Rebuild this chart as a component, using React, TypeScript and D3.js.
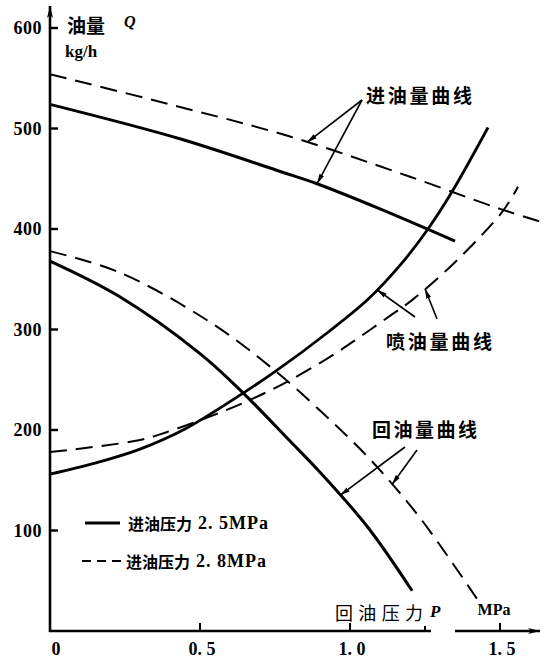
import React from 'react';
import * as d3 from 'd3';

// ---- data (P in MPa, Q in kg/h) ----
const yTicks = [100, 200, 300, 400, 500, 600];
const xTicks = [0.5, 1.0, 1.25, 1.5];
const xTickLabelValues = [0, 0.5, 1.0, 1.5];
const xTickLabels = ['0', '0. 5', '1. 0', '1. 5'];

// inlet flow (进油量)
const inletSolidP = [0, 0.43, 0.77, 0.89, 1.1, 1.35];
const inletSolidQ = [524, 490, 457, 445, 420, 388];
const inletDashedP = [0, 0.4, 0.8, 1.2, 1.5, 1.65];
const inletDashedQ = [554, 524, 492, 452, 420, 406];

// injection flow (喷油量)
const spraySolidP = [0, 0.15, 0.3, 0.45, 0.64, 0.75, 0.93, 1.06, 1.17, 1.26, 1.34, 1.46];
const spraySolidQ = [156, 167, 181, 201, 236, 258, 298, 330, 365, 400, 437, 501];
const sprayDashedP = [0, 0.3, 0.39, 0.53, 0.66, 0.79, 0.94, 1.03, 1.14, 1.21, 1.35, 1.51, 1.56];
const sprayDashedQ = [178, 190, 198, 213, 229, 248, 274, 292, 315, 330, 367, 418, 442];

// return flow (回油量)
const returnSolidP = [0, 0.23, 0.5, 0.64, 0.8, 0.9, 1.06, 1.207];
const returnSolidQ = [368, 333, 276, 238, 189, 158, 103, 40];
const returnDashedP = [0, 0.23, 0.53, 0.75, 0.99, 1.1, 1.24, 1.43];
const returnDashedQ = [378, 357, 308, 259, 194, 160, 110, 29];

const legendLabels = ['进油压力', '进油压力'];
const legendValues = ['2. 5MPa', '2. 8MPa'];

const CJK = "'Noto Sans CJK SC', 'Noto Sans', sans-serif";
const SERIF = "'Liberation Serif', 'DejaVu Serif', serif";
const INK = '#000';

export default function App() {
  const W = 544, H = 661;
  const x = d3.scaleLinear().domain([0, 1.5]).range([50, 500]);
  const y = d3.scaleLinear().domain([0, 600]).range([631, 28]);

  const pts = (P: number[], Q: number[]) => P.map((p, i) => [p, Q[i]] as [number, number]);
  const line = d3.line<[number, number]>()
    .x(d => x(d[0]))
    .y(d => y(d[1]))
    .curve(d3.curveCatmullRom.alpha(0.5));
  const qAt = (P: number[], Q: number[], p: number) => d3.scaleLinear().domain(P).range(Q)(p);
  const at = (P: number[], Q: number[], p: number) => [x(p), y(qAt(P, Q, p))];

  const solidW = 3;
  const dashW = 2;
  const dash = '17 9';

  const leaders: { from: [number, number]; to: number[] }[] = [
    { from: [362, 100], to: at(inletDashedP, inletDashedQ, 0.857) },
    { from: [362, 100], to: at(inletSolidP, inletSolidQ, 0.89) },
    { from: [415, 317], to: at(spraySolidP, spraySolidQ, 1.09) },
    { from: [437, 319], to: at(sprayDashedP, sprayDashedQ, 1.25) },
    { from: [405, 447], to: at(returnSolidP, returnSolidQ, 0.967) },
    { from: [417, 450], to: at(returnDashedP, returnDashedQ, 1.14) },
  ];

  return (
    <svg width={W} height={H} style={{ position: 'absolute', left: 0, top: 0, background: '#fff' }}>
      <defs>
        <marker id="ah" viewBox="0 0 10 6" refX="10" refY="3" markerWidth="10" markerHeight="6"
          markerUnits="userSpaceOnUse" orient="auto">
          <path d="M0,0.5 L10,3 L0,5.5 z" fill={INK} />
        </marker>
        <marker id="axah" viewBox="0 0 12 8" refX="12" refY="4" markerWidth="12" markerHeight="8"
          markerUnits="userSpaceOnUse" orient="auto">
          <path d="M0,1 L12,4 L0,7 L3,4 z" fill={INK} />
        </marker>
      </defs>
      <rect width={W} height={H} fill="#fff" />

      {/* axes */}
      <line x1={x(0)} y1={y(0) + 1} x2={x(0)} y2={6} stroke={INK} strokeWidth={2.6} markerEnd="url(#axah)" />
      <line x1={x(0) - 1} y1={y(0)} x2={431} y2={y(0)} stroke={INK} strokeWidth={2.6} />
      <line x1={455} y1={y(0)} x2={540} y2={y(0)} stroke={INK} strokeWidth={2.6} markerEnd="url(#axah)" />

      {yTicks.map(t => (
        <g key={'yt' + t}>
          <line x1={x(0)} x2={x(0) + 8} y1={y(t)} y2={y(t)} stroke={INK} strokeWidth={2.4} />
          <text x={42} y={y(t)} textAnchor="end" dominantBaseline="central"
            fontFamily={SERIF} fontWeight="bold" fontSize={18} letterSpacing={0.5}>{t}</text>
        </g>
      ))}
      {xTicks.map(t => (
        <line key={'xt' + t} x1={x(t)} x2={x(t)} y1={y(0)} y2={y(0) - (t === 1.25 ? 5 : 8)}
          stroke={INK} strokeWidth={2} />
      ))}
      {xTickLabelValues.map((v, i) => (
        <text key={'xl' + v} x={v === 0 ? x(v) + 6 : x(v) + 2} y={649} textAnchor="middle" dominantBaseline="central"
          fontFamily={SERIF} fontWeight="bold" fontSize={18}>{xTickLabels[i]}</text>
      ))}

      {/* axis titles */}
      <text x={67} y={24} dominantBaseline="central" fontFamily={CJK} fontWeight="bold" fontSize={19}>油量</text>
      <text x={124} y={21} dominantBaseline="central" fontFamily={SERIF} fontStyle="italic" fontWeight="bold" fontSize={16}>Q</text>
      <text x={65} y={51} dominantBaseline="central" fontFamily={SERIF} fontWeight="bold" fontSize={17}>kg/h</text>
      <text x={335} y={612} dominantBaseline="central" fontFamily={CJK} fontSize={18} textLength={88} lengthAdjust="spacing">回油压力</text>
      <text x={430} y={611} dominantBaseline="central" fontFamily={SERIF} fontStyle="italic" fontWeight="bold" fontSize={17}>P</text>
      <text x={494} y={609} textAnchor="middle" dominantBaseline="central" fontFamily={SERIF} fontWeight="bold" fontSize={16}>MPa</text>

      {/* curves */}
      <path d={line(pts(inletSolidP, inletSolidQ)) || ''} fill="none" stroke={INK} strokeWidth={solidW} />
      <path d={line(pts(inletDashedP, inletDashedQ)) || ''} fill="none" stroke={INK} strokeWidth={dashW} strokeDasharray={dash} />
      <path d={line(pts(spraySolidP, spraySolidQ)) || ''} fill="none" stroke={INK} strokeWidth={2.8} />
      <path d={line(pts(sprayDashedP, sprayDashedQ)) || ''} fill="none" stroke={INK} strokeWidth={dashW} strokeDasharray={dash} />
      <path d={line(pts(returnSolidP, returnSolidQ)) || ''} fill="none" stroke={INK} strokeWidth={solidW} />
      <path d={line(pts(returnDashedP, returnDashedQ)) || ''} fill="none" stroke={INK} strokeWidth={dashW} strokeDasharray={dash} />

      {/* leader lines */}
      {leaders.map((l, i) => (
        <line key={'ld' + i} x1={l.from[0]} y1={l.from[1]} x2={l.to[0]} y2={l.to[1]}
          stroke={INK} strokeWidth={1.6} markerEnd="url(#ah)" />
      ))}

      {/* curve labels */}
      <text x={366} y={94} dominantBaseline="central" fontFamily={CJK} fontWeight="bold" fontSize={19} textLength={106} lengthAdjust="spacing">进油量曲线</text>
      <text x={386} y={340} dominantBaseline="central" fontFamily={CJK} fontWeight="bold" fontSize={19} textLength={106} lengthAdjust="spacing">喷油量曲线</text>
      <text x={372} y={428} dominantBaseline="central" fontFamily={CJK} fontWeight="bold" fontSize={19} textLength={105} lengthAdjust="spacing">回油量曲线</text>

      {/* legend */}
      <line x1={85} x2={120} y1={523} y2={523} stroke={INK} strokeWidth={3} />
      <line x1={82} x2={125} y1={561} y2={561} stroke={INK} strokeWidth={2} strokeDasharray="9 6" />
      {legendLabels.map((lab, i) => (
        <text key={'lg' + i} x={i === 0 ? 128 : 126} y={i === 0 ? 523 : 561} dominantBaseline="central">
          <tspan fontFamily={CJK} fontWeight="bold" fontSize={16}>{lab}</tspan>
          <tspan dx={6} fontFamily={SERIF} fontWeight="bold" fontSize={18} letterSpacing={1}>{legendValues[i]}</tspan>
        </text>
      ))}
    </svg>
  );
}
